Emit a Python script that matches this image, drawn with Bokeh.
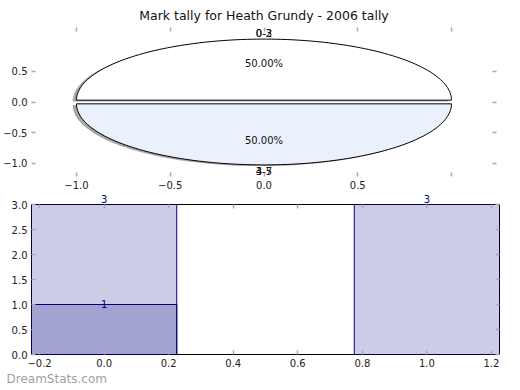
import numpy as np
from bokeh.plotting import figure
from bokeh.layouts import column
from bokeh.models import LinearAxis, CustomJSTickFormatter, FixedTicker, Title
from bokeh.core.properties import value
from bokeh.embed import file_html
from bokeh.resources import INLINE

FONT = "DejaVu Sans"

# ---------------- data ----------------
title_text = "Mark tally for Heath Grundy - 2006 tally"
watermark = "DreamStats.com"
pie_labels = ["0-3", "4-7"]
pie_labels_alt = ["0-2", "3-5"]
pie_values = [3, 3]
pie_colors = ["#FFFFFF", "#EAF0FC"]

bar_x = [0, 1]
bar_total = [3, 3]
bar_part = [1, 0]

pie_xticks = [-1.0, -0.5, 0.0, 0.5, 1.0]
pie_yticks = [-1.0, -0.5, 0.0, 0.5]
bar_xticks = [-0.2, 0.0, 0.2, 0.4, 0.6, 0.8, 1.0, 1.2]
bar_yticks = [0.0, 0.5, 1.0, 1.5, 2.0, 2.5, 3.0]

TICK_COLOR = "#aaaaaa"
fmt_code = "return tick.toFixed(1).replace('-', '\\u2212');"


def style_axis(ax, labels=True, fmt=fmt_code):
    ax.major_tick_in = 4
    ax.major_tick_out = 0
    ax.minor_tick_in = 0
    ax.minor_tick_out = 0
    ax.major_tick_line_color = TICK_COLOR
    ax.major_tick_line_width = 1.5
    ax.axis_line_color = None
    ax.major_label_text_font = FONT
    ax.major_label_text_font_size = "10px" if labels else "0px"
    ax.major_label_text_color = "#222222"
    ax.major_label_standoff = 4 if labels else 0
    ax.formatter = CustomJSTickFormatter(code=fmt if labels else "return '';")


# ---------------- pie ----------------
p1 = figure(frame_width=465, frame_height=149, x_range=(-1.24, 1.24), y_range=(-1.22, 1.22),
            output_backend="svg", toolbar_location=None,
            min_border_left=27, min_border_right=12, min_border_top=0, min_border_bottom=0,
            title=title_text)
p1.title.align = "center"
p1.title.text_font = FONT
p1.title.text_font_style = "normal"
p1.title.text_font_size = "12.5px"
p1.title.text_color = "#111111"
p1.title.offset = 0
p1.outline_line_color = None
p1.grid.visible = False

p1.xaxis.ticker = FixedTicker(ticks=pie_xticks)
p1.yaxis.ticker = FixedTicker(ticks=pie_yticks)
style_axis(p1.xaxis[0], fmt="return tick > 0.75 ? '' : tick.toFixed(1).replace('-', '\\u2212');")
style_axis(p1.yaxis[0])
top1 = LinearAxis(ticker=FixedTicker(ticks=pie_xticks))
right1 = LinearAxis(ticker=FixedTicker(ticks=pie_yticks))
style_axis(top1, labels=False)
style_axis(right1, labels=False)
p1.add_layout(top1, "above")
p1.add_layout(right1, "right")

explode = 0.03
shadow_off = -0.02
total = float(sum(pie_values))
fracs = np.array(pie_values) / total
bounds = np.concatenate([[0.0], np.cumsum(fracs)]) * 2 * np.pi
sx, sy, wx, wy, mids = [], [], [], [], []
for i in range(len(pie_values)):
    t = np.linspace(bounds[i], bounds[i + 1], 120)
    mid = 0.5 * (bounds[i] + bounds[i + 1])
    cx, cy = explode * np.cos(mid), explode * np.sin(mid)
    xs = np.concatenate([[cx], cx + np.cos(t), [cx]])
    ys = np.concatenate([[cy], cy + np.sin(t), [cy]])
    wx.append(list(xs)); wy.append(list(ys))
    sx.append(list(xs + shadow_off)); sy.append(list(ys + shadow_off))
    mids.append(mid)
mids = np.array(mids)

p1.patches(xs=sx, ys=sy, fill_color="#4d4d4d", fill_alpha=0.5, line_color=None)
p1.patches(xs=wx, ys=wy, fill_color=pie_colors, line_color="black", line_width=1)

lab_r = 1.1 + explode
pct_r = 0.6 + explode
pct_text = ["%.2f%%" % (f * 100) for f in fracs]
for labs in (pie_labels, pie_labels_alt):
    p1.text(x=list(lab_r * np.cos(mids)), y=list(lab_r * np.sin(mids)), text=labs,
            text_align="center", text_baseline="middle", text_font=value(FONT),
            text_font_size="10px", text_color="#111111")
p1.text(x=list(pct_r * np.cos(mids)), y=list(pct_r * np.sin(mids)), text=pct_text,
        text_align="center", text_baseline="middle", text_font=value(FONT),
        text_font_size="10px", text_color="#111111")

# ---------------- bars ----------------
p2 = figure(frame_width=468, frame_height=150, x_range=(-0.225, 1.225), y_range=(0, 3),
            output_backend="svg", toolbar_location=None,
            min_border_left=25, min_border_right=11, min_border_top=4, min_border_bottom=0)
p2.outline_line_color = "black"
p2.outline_line_width = 1
p2.grid.visible = False
p2.xaxis.ticker = FixedTicker(ticks=bar_xticks)
p2.yaxis.ticker = FixedTicker(ticks=bar_yticks)
style_axis(p2.xaxis[0])
style_axis(p2.yaxis[0])
top2 = LinearAxis(ticker=FixedTicker(ticks=bar_xticks))
right2 = LinearAxis(ticker=FixedTicker(ticks=bar_yticks))
style_axis(top2, labels=False)
style_axis(right2, labels=False)
p2.add_layout(top2, "above")
p2.add_layout(right2, "right")

# value labels above the bars (an axis placed above the frame, so they are not clipped)
val_axis = LinearAxis(ticker=FixedTicker(ticks=bar_x),
                      major_label_overrides={x: str(v) for x, v in zip(bar_x, bar_total)})
val_axis.major_tick_in = 0
val_axis.major_tick_out = 0
val_axis.minor_tick_in = 0
val_axis.minor_tick_out = 0
val_axis.axis_line_color = None
val_axis.major_label_standoff = 2
val_axis.major_label_text_font = FONT
val_axis.major_label_text_font_size = "10px"
val_axis.major_label_text_color = "navy"
p2.add_layout(val_axis, "above")

p2.vbar(x=bar_x, top=bar_total, width=0.45, bottom=0, fill_color="navy", fill_alpha=0.2,
        line_color="navy", line_width=1)
part_x = [x for x, v in zip(bar_x, bar_part) if v > 0]
part_v = [v for v in bar_part if v > 0]
p2.vbar(x=part_x, top=part_v, width=0.45, bottom=0, fill_color="navy", fill_alpha=0.2,
        line_color="navy", line_width=1)
p2.text(x=part_x, y=part_v, text=[str(v) for v in part_v], text_align="center",
        text_baseline="middle", text_font=value(FONT), text_font_size="10px",
        text_color="navy", y_offset=-1)

wm = Title(text=watermark, align="left", offset=-25, standoff=0)
wm.text_font = FONT
wm.text_font_style = "normal"
wm.text_font_size = "12px"
wm.text_color = "#8c8c8c"
wm.text_alpha = 0.85
p2.add_layout(wm, "below")

layout = column(p1, p2, spacing=0)
open("out.html", "w").write(file_html(layout, INLINE))
